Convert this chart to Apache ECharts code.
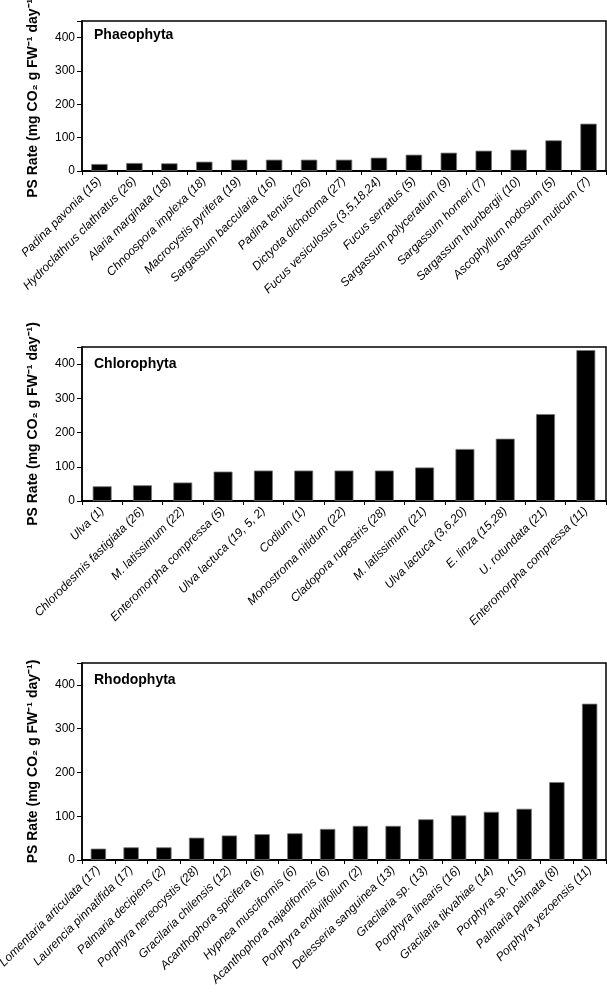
<!DOCTYPE html>
<html><head><meta charset="utf-8">
<script src="https://cdn.jsdelivr.net/npm/echarts@6/dist/echarts.min.js"></script>
<style>html,body{margin:0;padding:0;background:#fff}#c{width:607px;height:994px}</style>
</head><body><div id="c"></div>
<script>
const panelTitles = ['Phaeophyta', 'Chlorophyta', 'Rhodophyta'];
const yAxisTitle = 'PS Rate (mg CO\u2082 g FW\u207B\u00B9 day\u207B\u00B9)';
const yTicks = [0, 100, 200, 300, 400];

const phaeoCategories = ['Padina pavonia (15)','Hydroclathrus clathratus (26)','Alaria marginata (18)','Chnoospora implexa (18)','Macrocystis pyrifera (19)','Sargassum baccularia (16)','Padina tenuis (26)','Dictyota dichotoma (27)','Fucus vesiculosus (3,5,18,24)','Fucus serratus (5)','Sargassum polyceratium (9)','Sargassum horneri (7)','Sargassum thunbergii (10)','Ascophyllum nodosum (5)','Sargassum muticum (7)'];
const phaeoValues = [21,24,23,28,34,34,34,34,40,49,55,61,64,92,142];

const chloroCategories = ['Ulva (1)','Chlorodesmis fastigiata (26)','M. latissimum (22)','Enteromorpha compressa (5)','Ulva lactuca (19, 5, 2)','Codium (1)','Monostroma nitidum (22)','Cladopora rupestris (28)','M. latissimum (21)','Ulva lactuca (3,6,20)','E. linza (15,28)','U. rotundata (21)','Enteromorpha compressa (11)'];
const chloroValues = [43,46,54,86,89,89,89,89,98,152,182,254,441];

const rhodoCategories = ['Lomentaria articulata (17)','Laurencia pinnatifida (17)','Palmaria decipiens (2)','Porphyra nereocystis (28)','Gracilaria chilensis (12)','Acanthophora spicifera (6)','Hypnea musciformis (6)','Acanthophora najadiformis (6)','Porphyra endiviifolium (2)','Delesseria sanguinea (13)','Gracilaria sp. (13)','Porphyra linearis (16)','Gracilaria tikvahiae (14)','Porphyra sp. (15)','Palmaria palmata (8)','Porphyra yezoensis (11)'];
const rhodoValues = [26,29,29,51,56,59,61,71,78,78,93,102,110,117,178,357];

const panels = [
  {cats: phaeoCategories, vals: phaeoValues, top: 21, height: 150, titleY: 36},
  {cats: chloroCategories, vals: chloroValues, top: 347, height: 154, titleY: 365},
  {cats: rhodoCategories, vals: rhodoValues, top: 663, height: 197, titleY: 681}
];
const FONT = '"Liberation Sans", Arial, sans-serif';
const chart = echarts.init(document.getElementById('c'), null, {renderer: 'canvas'});
const grid = [], xAxis = [], yAxis = [], series = [], graphic = [];
panels.forEach((p, i) => {
  grid.push({left: 82, right: 1, top: p.top, height: p.height, show: true,
    borderColor: '#000', borderWidth: 1.5, containLabel: false, outerBoundsMode: 'none'});
  graphic.push({type: 'text', left: 94, top: p.titleY - 8, silent: true,
    style: {text: panelTitles[i], font: 'bold 14px ' + FONT, fill: '#000'}});
  xAxis.push({type: 'category', gridIndex: i, data: p.cats,
    axisLine: {lineStyle: {color: '#000', width: 2}},
    axisTick: {show: true, length: 4, lineStyle: {color: '#000', width: 1}, alignWithLabel: false},
    axisLabel: {interval: 0, rotate: 45, margin: 8, fontFamily: FONT, fontSize: 12,
      fontStyle: 'italic', color: '#000', hideOverlap: false}});
  yAxis.push({type: 'value', gridIndex: i, min: 0, max: 450, interval: 100,
    name: yAxisTitle, nameLocation: 'middle', nameGap: 42, nameRotate: 90,
    nameTextStyle: {fontFamily: FONT, fontSize: 14, fontWeight: 'bold', color: '#000'},
    splitLine: {show: false},
    axisLine: {show: true, lineStyle: {color: '#000', width: 1.5}},
    axisTick: {show: true, length: 5, lineStyle: {color: '#000'}},
    axisLabel: {margin: 7, fontFamily: FONT, fontSize: 12, color: '#000',
      formatter: v => (yTicks.indexOf(v) >= 0 ? String(v) : '')}});
  series.push({type: 'bar', xAxisIndex: i, yAxisIndex: i, data: p.vals, barWidth: '47%',
    itemStyle: {color: '#000', borderColor: '#777', borderWidth: 0.8},
    silent: true, animation: false});
});
chart.setOption({animation: false, graphic, grid, xAxis, yAxis, series});
</script></body></html>
